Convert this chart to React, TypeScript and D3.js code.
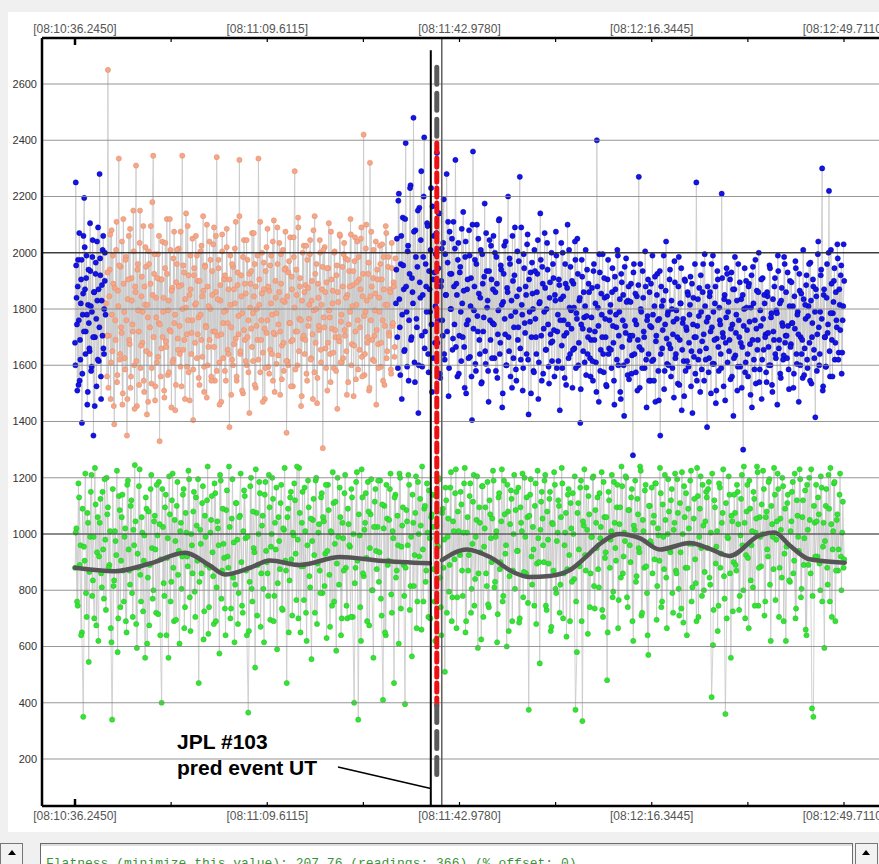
import { useEffect, useRef } from "react";
import * as d3 from "d3";

// time axis: one label every tickStep seconds
const tickLabels = ["08:10:36.2450", "08:11:09.6115", "08:11:42.9780", "08:12:16.3445", "08:12:49.7110"];
const tickStep = 33.3665;
const yTicks = [200, 400, 600, 800, 1000, 1200, 1400, 1600, 1800, 2000, 2200, 2400, 2600];

// readings (values), evenly spaced in time over their span (seconds from first label)
// two interleaved passes per channel
const blueLeftSpan = [0, 5.2];
const blueLeft = [
  1680, 2250, 1840, 1510, 1975, 1760, 1545, 1620, 1905, 1395, 1780, 2060, 2195, 1870, 1720, 1990, 1460, 1815, 1750, 1650,
  1935, 1580, 1790, 2045, 1350, 1860, 1700, 1965, 1525, 1830, 2090, 1615, 2280, 1920, 1480, 1885, 2010, 1660, 1800, 2000,
];
const blueLeft2Span = [0.07, 5.3];
const blueLeft2 = [
  1600, 1955, 1745, 1880, 1530, 2070, 1690, 1820, 1975, 1570, 1855, 1720, 2020, 1640, 1910, 1780, 1505, 1940, 1660, 2105,
  1810, 1595, 1985, 1700, 1860, 1455, 1925, 1765, 2040, 1620, 1870, 1735, 1980, 1560, 1830, 1705, 2060, 1640, 1900, 1780,
];

const orangeSpan = [5.4, 55.6];
const orange = [
  1820, 1560, 2650, 1705, 1940, 1480, 2080, 1650, 1890, 1390, 1760, 2010, 1540, 1865, 2335, 1620, 1950, 1715, 1460, 2120,
  1790, 1585, 1985, 1350, 1835, 2060, 1675, 1520, 1910, 1745, 2150, 1600, 1880, 2310, 1455, 1960, 1720, 2035, 1590, 1845,
  1680, 2095, 1505, 1815, 1950, 1425, 1770, 2005, 1640, 1890, 1535, 2180, 2345, 1925, 1475, 1840, 1610, 1995, 1750, 1330,
  1905, 1660, 2040, 1790, 1510, 1945, 1685, 2120, 1565, 1830, 1725, 2010, 1450, 1875, 1620, 2075, 1780, 1530, 1960, 1695,
  2015, 1740, 1595, 1885, 2345, 1655, 1930, 1480, 1805, 1710, 2095, 1575, 1850, 1990, 1640, 1760, 1405, 1920, 1815, 2060,
  1625, 1900, 1770, 1530, 2005, 1690, 1845, 2130, 1595, 1955, 1740, 1485, 1880, 1665, 2040, 1800, 1560, 1935, 1720, 2090,
  1545, 1860, 2340, 1705, 1975, 1610, 1830, 1470, 2065, 1750, 1905, 1580, 1795, 2020, 1655, 1870, 1380, 1990, 1735, 1620,
  1950, 1675, 1820, 2110, 1545, 1885, 1710, 2330, 1640, 1920, 1785, 1500, 2045, 1690, 1855, 1600, 1975, 1760, 1430, 1890,
  1730, 2070, 1615, 1845, 1960, 1520, 1800, 1690, 2335, 1905, 1575, 1760, 2000, 1645, 1870, 1480, 1935, 1715, 2085, 1595,
  1865, 1655, 1990, 1780, 1545, 2115, 1710, 1840, 1605, 1960, 1745, 2035, 1495, 1890, 1670, 2010, 1580, 1825, 1945, 1360,
  1615, 1930, 1750, 2055, 1685, 1870, 1525, 1985, 2290, 1720, 1850, 1600, 2090, 1765, 1910, 1455, 1830, 1695, 2025, 1640,
  1885, 1570, 1975, 1740, 1815, 2045, 1625, 1900, 1480, 1795, 2130, 1680, 1960, 1555, 1840, 1725, 2000, 1610, 1870, 1305,
  1770, 2020, 1660, 1895, 1510, 1945, 1795, 1640, 2075, 1730, 1865, 1590, 2005, 1700, 1920, 1445, 1825, 1685, 2060, 1755,
  1610, 1880, 1995, 1725, 1980, 1650, 1850, 1540, 1935, 1790, 2065, 1675, 1885, 1490, 1970, 1720, 1815, 2040, 1585, 1905,
  1735, 2050, 1630, 1845, 2420, 1565, 1790, 2100, 1680, 1925, 1510, 2320, 1760, 1880, 1620, 2010, 1705, 1855, 1460, 1940,
  1675, 1840, 2025, 1595, 1905, 1760, 1985, 1530, 1815, 2070, 1650, 1950, 1715, 1870, 1585, 2035, 1740, 1895, 1630, 1980,
];
const orange2Span = [5.48, 55.5];
const orange2 = [
  1705, 1930, 1520, 1845, 2065, 1610, 1780, 1990, 1455, 1875, 1690, 2110, 1565, 1810, 1955, 1640, 1735, 2040, 1500, 1890,
  1625, 1975, 1760, 1480, 1905, 1690, 2085, 1560, 1830, 1720, 2005, 1445, 1860, 1615, 1940, 1795, 1530, 2150, 1670, 1915,
  1790, 1545, 1880, 2020, 1650, 1815, 1470, 1960, 1735, 2095, 1590, 1850, 1700, 1995, 1525, 1770, 1910, 1630, 2060, 1745,
  1560, 1905, 1700, 1840, 1485, 2035, 1665, 1925, 1795, 1575, 2120, 1720, 1865, 1610, 1980, 1750, 1440, 1895, 2010, 1655,
  1880, 1640, 2075, 1525, 1800, 1955, 1690, 1835, 2140, 1595, 1760, 1920, 1475, 1870, 1715, 2050, 1585, 1945, 1680, 1820,
  1990, 1710, 1555, 1900, 1780, 2025, 1630, 1865, 1505, 1950, 1735, 2100, 1600, 1810, 1690, 1975, 1545, 1850, 2030, 1665,
  1720, 2060, 1580, 1835, 1945, 1460, 1885, 1710, 2005, 1625, 1790, 1920, 1545, 2085, 1750, 1640, 1905, 1815, 1495, 1960,
  1600, 1870, 2015, 1695, 1560, 1930, 1775, 2130, 1650, 1845, 1510, 1985, 1725, 1890, 1615, 2045, 1700, 1575, 1925, 1805,
  1935, 1665, 1785, 2070, 1530, 1880, 1740, 1990, 1620, 1815, 2110, 1690, 1855, 1470, 1965, 1730, 1590, 2020, 1760, 1880,
  1570, 1955, 1820, 1640, 2040, 1715, 1505, 1900, 1785, 2090, 1635, 1860, 1720, 1995, 1550, 1830, 1680, 1940, 2075, 1615,
  1845, 1600, 1970, 1750, 1525, 1915, 1690, 2055, 1805, 1585, 1940, 1720, 2125, 1650, 1880, 1760, 1490, 2000, 1705, 1860,
  1690, 2025, 1545, 1875, 1765, 1995, 1620, 1830, 1710, 2080, 1575, 1925, 1800, 1465, 1890, 1740, 2045, 1655, 1815, 1950,
  2010, 1735, 1860, 1590, 1945, 1680, 2105, 1770, 1540, 1905, 1820, 1645, 2000, 1725, 1580, 1955, 1860, 1700, 2065, 1610,
  1780, 1950, 1625, 2035, 1705, 1840, 1495, 1975, 1745, 1880, 2120, 1600, 1810, 1935, 1670, 2055, 1550, 1895, 1760, 1985,
  1655, 1870, 2090, 1560, 1925, 1775, 1640, 2015, 1830, 1700, 1965, 1520, 1845, 2075, 1690, 1910, 1615, 1795, 2040, 1725,
  1905, 1590, 1790, 1960, 1680, 2030, 1545, 1870, 1740, 2095, 1625, 1815, 1985, 1705, 1860, 1570, 1945, 1750, 1880, 1665,
];

const blueRightSpan = [55.7, 133.4];
const blueRight = [
  1820, 2050, 1590, 2210, 1735, 1960, 1480, 2125, 1870, 1655, 2390, 1790, 2005, 1545, 1925, 2240, 1700, 1860, 2480, 1610,
  2080, 1765, 1950, 1430, 2160, 1840, 2290, 1595, 1985, 2410, 1720, 1880, 2105, 1640, 1935, 1790, 2230, 1505, 1905, 2060,
  1680, 1995, 2355, 1760, 2140, 1570, 1880, 2015, 1705, 2190, 1620, 1850, 2280, 1965, 1490, 2075, 1800, 1925, 1655, 2110,
  1745, 2330, 1890, 1560, 2035, 1705, 1950, 1615, 1820, 2145, 1665, 1985, 1500, 1870, 1760, 2080, 1630, 1910, 1405, 2360,
  1795, 1975, 1580, 2100, 1720, 1855, 1640, 2010, 1540, 1890, 1770, 2175, 1605, 1935, 1830, 1470, 2045, 1690, 1905, 1750,
  2060, 1625, 1860, 1985, 1555, 1795, 2120, 1680, 1940, 1450, 1825, 2025, 1710, 1600, 1875, 2200, 1650, 1960, 1775, 1520,
  1900, 1735, 2090, 1585, 1845, 1690, 1970, 2270, 1620, 1815, 1510, 1995, 1750, 1880, 1640, 2065, 1425, 1790, 1930, 1700,
  1855, 1580, 2010, 1765, 1640, 1925, 1480, 1820, 2140, 1705, 1950, 1570, 1790, 1875, 1655, 2035, 1745, 1535, 1895, 1680,
  1615, 1960, 1725, 1850, 2075, 1590, 1780, 1905, 1440, 1835, 1670, 2000, 1760, 1555, 1890, 1715, 2100, 1625, 1805, 1950,
  1730, 1520, 1890, 1660, 1975, 1785, 2050, 1600, 1830, 1395, 1745, 1915, 1650, 1770, 1810, 1565, 1940, 1700, 1860, 1625,
  1690, 1875, 1545, 1960, 1720, 1610, 2400, 1805, 1470, 1930, 1655, 1780, 1995, 1575, 1840, 1700, 1525, 1905, 1640, 1760,
  1815, 1590, 1945, 1680, 1460, 1870, 1735, 2010, 1600, 1790, 1505, 1925, 1665, 1850, 1420, 1740, 1980, 1615, 1830, 1550,
  1705, 1890, 1635, 1280, 1960, 1760, 1575, 1845, 1690, 2270, 1520, 1800, 1655, 1935, 1720, 1590, 1880, 1450, 1775, 1640,
  1860, 1545, 1735, 1990, 1620, 1810, 1470, 1705, 1925, 1580, 1765, 1350, 1880, 1660, 1830, 1515, 1745, 2040, 1605, 1790,
  1675, 1940, 1560, 1800, 1710, 1485, 1895, 1640, 1765, 1535, 1985, 1690, 1820, 1440, 1750, 1615, 1905, 1580, 1725, 1860,
  1595, 1780, 1915, 1650, 1430, 1840, 1700, 1570, 2250, 1740, 1620, 1875, 1505, 1790, 1685, 1960, 1545, 1810, 1660, 1380,
  1770, 1625, 1860, 1500, 1735, 1990, 1605, 1820, 1465, 1695, 1905, 1580, 1760, 1640, 2210, 1715, 1525, 1850, 1680, 1945,
  1610, 1825, 1690, 1550, 1930, 1745, 1420, 1870, 1635, 1780, 1510, 1960, 1700, 1595, 1835, 1665, 1300, 1800, 1575, 1900,
  1725, 1560, 1890, 1675, 1805, 1450, 1950, 1620, 1760, 1535, 1865, 1690, 2000, 1585, 1740, 1480, 1910, 1655, 1820, 1710,
  1540, 1845, 1665, 1955, 1600, 1785, 1505, 1720, 1880, 1640, 1795, 1460, 1935, 1690, 1570, 1830, 1750, 1620, 1985, 1680,
  1860, 1625, 1740, 1515, 1900, 1675, 1750, 1810, 1570, 1730, 1945, 1605, 1790, 1470, 1865, 1700, 1640, 1555, 1835, 1660,
  1765, 1920, 1590, 1810, 1680, 1965, 1535, 1750, 1880, 1625, 1415, 1845, 1710, 2040, 1600, 1790, 1940, 2300, 1525, 1870,
  1700, 1595, 1960, 1745, 2220, 1560, 2010, 1690, 1785, 1900, 1620, 1860, 1735, 1980, 1645, 1815, 1920, 1570, 1760, 2030,
];
const blueRight2Span = [55.78, 133.5];
const blueRight2 = [
  1940, 1700, 2185, 1835, 1565, 2060, 1780, 1955, 1650, 2120, 1880, 1595, 2025, 1760, 2230, 1690, 1910, 1820, 2075, 1540,
  1985, 1735, 2150, 1600, 1895, 2045, 1705, 1850, 2200, 1660, 1960, 1790, 2095, 1575, 1870, 2010, 1745, 2165, 1625, 1930,
  1810, 2070, 1680, 1945, 2140, 1555, 1900, 1760, 2035, 1640, 1995, 1850, 1720, 2110, 1590, 1925, 1800, 2050, 1695, 1880,
  2015, 1665, 1850, 1975, 1570, 1930, 1790, 2085, 1700, 1865, 1520, 2040, 1745, 1905, 1625, 1990, 1810, 1560, 2100, 1730,
  1880, 1605, 1960, 1775, 2050, 1690, 1840, 1535, 1995, 1720, 1915, 1650, 2070, 1805, 1580, 1935, 1760, 2025, 1625, 1870,
  1745, 2000, 1580, 1890, 1710, 2115, 1640, 1955, 1815, 1500, 1925, 1765, 2040, 1600, 1860, 1700, 1980, 1560, 1830, 2060,
  1625, 1920, 1790, 1545, 2005, 1735, 1870, 1660, 2090, 1780, 1590, 1945, 1715, 1850, 2030, 1620, 1905, 1755, 1500, 1965,
  1800, 1575, 1935, 1700, 1860, 2045, 1610, 1825, 1975, 1545, 1890, 1730, 2070, 1655, 1800, 1940, 1595, 1840, 1710, 2000,
  1685, 1910, 1560, 1830, 1990, 1720, 1615, 1885, 1760, 2035, 1590, 1845, 1705, 1960, 1530, 1875, 1745, 2010, 1640, 1795,
  1900, 1655, 1805, 2040, 1590, 1765, 1925, 1680, 1840, 1515, 1975, 1730, 1860, 1610, 2010, 1775, 1640, 1890, 1725, 1560,
  1770, 1615, 1935, 1690, 1820, 1505, 1880, 1740, 1995, 1580, 1855, 1700, 1640, 1910, 1765, 1530, 1845, 1975, 1660, 1790,
  1655, 1860, 1740, 1545, 1915, 1780, 1620, 1990, 1705, 1835, 1480, 1895, 1760, 1600, 1950, 1715, 1825, 1565, 1880, 1690,
  1825, 1570, 1705, 1930, 1640, 1855, 1745, 1510, 1885, 1665, 1960, 1790, 1590, 1840, 1700, 2005, 1620, 1760, 1905, 1545,
  1740, 1890, 1615, 1780, 1545, 1915, 1685, 1850, 1760, 1475, 1935, 1640, 1810, 1725, 1990, 1580, 1865, 1695, 1780, 1600,
  1905, 1660, 1830, 1590, 1755, 1970, 1625, 1795, 1700, 1880, 1530, 1820, 1945, 1655, 1765, 1490, 1900, 1735, 1615, 1850,
  1680, 1815, 1525, 1890, 1745, 1630, 1960, 1700, 1545, 1835, 1775, 1650, 1920, 1585, 1860, 1710, 1995, 1620, 1755, 1880,
  1575, 1845, 1720, 1960, 1605, 1790, 1690, 1880, 1510, 1935, 1665, 1805, 1745, 1590, 1910, 1700, 1835, 1475, 1770, 1925,
  1790, 1650, 1905, 1730, 1560, 1870, 1625, 1985, 1715, 1830, 1595, 1760, 1895, 1680, 1520, 1850, 1740, 1945, 1610, 1805,
  1640, 1880, 1755, 1495, 1920, 1690, 1820, 1585, 1975, 1730, 1655, 1860, 1540, 1795, 1905, 1620, 1765, 1850, 1700, 1575,
  1860, 1715, 1600, 1945, 1770, 1530, 1835, 1690, 1910, 1625, 1785, 1990, 1660, 1820, 1555, 1875, 1740, 1635, 1960, 1705,
  1705, 1930, 1585, 1810, 1665, 1895, 1750, 1520, 1845, 1970, 1640, 1780, 1710, 1925, 1600, 1855, 1690, 2010, 1565, 1815,
  1885, 1620, 1775, 1960, 1545, 1830, 1700, 1905, 1655, 1790, 1870, 1580, 1995, 1735, 1640, 1920, 1765, 1510, 1850, 1700,
  1595, 1840, 1715, 2000, 1650, 1785, 1890, 1560, 1825, 1945, 1680, 1760, 2030, 1620, 1870, 1725, 1955, 1645, 1810, 1900,
];

const greenSpan = [0, 133.4];
const green = [
  880, 1020, 745, 1130, 960, 650, 350, 905, 790, 1075, 545, 990, 1210, 835, 700, 1105, 935, 620, 1040, 860,
  1150, 770, 980, 1200, 1095, 890, 665, 340, 815, 1010, 925, 580, 1135, 740, 1060, 870, 990, 690, 1175, 945,
  820, 1120, 705, 960, 1045, 595, 880, 1230, 760, 1005, 905, 560, 1090, 845, 675, 1160, 950, 800, 1065, 720,
  995, 1185, 640, 400, 1025, 780, 1140, 915, 560, 1070, 830, 1215, 690, 975, 1100, 855, 610, 1040, 920, 1160,
  740, 1005, 885, 1195, 655, 960, 1080, 795, 1130, 905, 470, 1015, 860, 1170, 725, 990, 1120, 645, 880, 1050,
  935, 680, 1145, 810, 1020, 575, 1190, 870, 965, 735, 1085, 920, 1240, 700, 1055, 845, 615, 1110, 980, 790,
  1065, 900, 720, 1155, 985, 640, 365, 830, 1200, 760, 950, 525, 1075, 890, 1185, 670, 1030, 805, 1140, 940,
  860, 1210, 695, 1000, 1125, 780, 945, 590, 1060, 875, 1175, 730, 1015, 905, 470, 1090, 835, 1150, 710, 995,
  1120, 765, 980, 1235, 650, 1040, 885, 1165, 720, 960, 1095, 810, 555, 1050, 925, 1190, 680, 1005, 870, 1130,
  790, 1045, 930, 630, 1175, 855, 1010, 745, 1110, 965, 585, 1200, 820, 1060, 700, 985, 1145, 880, 700, 1035,
  955, 1160, 705, 400, 880, 1220, 340, 995, 620, 1130, 850, 1040, 915, 1185, 675, 1070, 800, 560, 1115, 940,
  1025, 830, 1190, 710, 410, 1100, 640, 1055, 905, 1160, 785, 1010, 470, 1140, 870, 960, 1215, 735, 1030, 890,
  395, 1085, 960, 1175, 815, 565, 1040, 925, 1205, 760, 1000, 1125, 660, 945, 1090, 830, 1180, 705, 985, 1060,
  1140, 875, 620, 1030, 955, 1195, 740, 1075, 880, 510, 1120, 990, 795, 1165, 690, 1045, 910, 1230, 775, 1010,
  925, 1105, 780, 1180, 650, 1005, 870, 1135, 720, 965, 1210, 840, 1050, 595, 1095, 935, 1170, 705, 1020, 860,
  1185, 740, 1070, 900, 1225, 810, 990, 615, 1130, 875, 1045, 760, 1190, 930, 600, 1080, 850, 1155, 690, 1000,
  805, 1150, 940, 685, 1095, 1010, 775, 1200, 860, 1060, 375, 1140, 920, 1025, 745, 1180, 895, 985, 540, 1115,
  1055, 900, 1210, 730, 980, 1125, 655, 1040, 870, 1175, 790, 1005, 1100, 820, 1235, 700, 960, 1075, 875, 1160,
  690, 1020, 1145, 840, 375, 580, 1110, 885, 1190, 335, 1030, 925, 1165, 645, 1070, 860, 990, 1205, 735, 1040,
  1130, 810, 985, 1220, 705, 1060, 935, 480, 1150, 880, 1010, 775, 1185, 950, 1095, 665, 1035, 845, 1170, 920,
  975, 1200, 740, 1085, 900, 1160, 620, 1015, 830, 1125, 950, 1240, 710, 1050, 880, 1175, 790, 570, 1100, 965,
  860, 1065, 1180, 695, 1020, 905, 1145, 760, 990, 1210, 845, 1000, 1080, 935, 1160, 720, 1040, 870, 1195, 805,
  1110, 735, 1000, 1170, 880, 640, 1090, 965, 1225, 810, 1055, 910, 690, 1135, 990, 1205, 780, 1030, 865, 1150,
  950, 1185, 820, 420, 605, 1120, 895, 1010, 745, 1165, 930, 1075, 850, 360, 700, 985, 1140, 560, 1045, 900,
  1075, 870, 1150, 730, 995, 1210, 800, 1040, 925, 1175, 665, 1090, 960, 810, 1125, 1005, 1240, 745, 1060, 885,
  1000, 1160, 760, 1080, 920, 1195, 620, 1035, 875, 1140, 980, 1215, 705, 1055, 845, 1170, 930, 620, 1110, 960,
  830, 1045, 1185, 905, 700, 1120, 990, 1230, 775, 1060, 890, 1155, 640, 1015, 1200, 860, 380, 350, 1040, 1175,
  920, 1070, 800, 1165, 955, 595, 1100, 880, 1210, 760, 1035, 945, 1180, 690, 1050, 870, 1140, 920, 1005, 880,
];
const green2Span = [0.12, 133.5];
const green2 = [
  1005, 760, 1180, 890, 640, 1090, 955, 1215, 705, 1040, 865, 1150, 780, 990, 1235, 675, 1060, 920, 1125, 810,
  945, 1195, 730, 1070, 880, 1010, 615, 1160, 835, 975, 1225, 700, 1085, 905, 1140, 760, 1020, 650, 1190, 870,
  1100, 790, 1015, 1245, 680, 930, 1170, 855, 1060, 725, 995, 1130, 610, 1080, 890, 1210, 770, 1045, 945, 1175,
  715, 1035, 910, 1160, 825, 1095, 640, 985, 1205, 760, 1120, 880, 1050, 695, 1185, 940, 1010, 805, 1140, 665,
  1075, 920, 1225, 775, 1000, 860, 1150, 705, 1030, 1195, 830, 965, 1110, 625, 1065, 890, 1240, 740, 1005, 1135,
  850, 1180, 690, 1045, 960, 1210, 770, 1090, 915, 640, 1155, 880, 1025, 735, 1195, 970, 820, 1110, 680, 1060,
  1215, 745, 1010, 1135, 870, 990, 655, 1170, 805, 1080, 935, 1230, 710, 1000, 1145, 860, 1065, 615, 1185, 900,
  780, 1095, 955, 1200, 690, 1040, 1165, 825, 975, 1110, 735, 1020, 1235, 870, 1060, 650, 1130, 910, 1005, 1180,
  930, 1240, 700, 1075, 885, 1150, 765, 1010, 620, 1190, 850, 1055, 975, 1125, 720, 1200, 895, 1035, 790, 1145,
  1060, 815, 1175, 940, 1085, 670, 1005, 1220, 760, 1115, 895, 990, 1165, 640, 1040, 870, 1210, 745, 1090, 960,
  705, 1130, 1000, 825, 1185, 905, 1070, 740, 1230, 860, 1015, 1145, 690, 1080, 950, 1195, 800, 1025, 1160, 875,
  1190, 935, 770, 1105, 1020, 650, 1175, 890, 1050, 1215, 720, 985, 1130, 845, 1065, 610, 1200, 955, 1095, 780,
  880, 1045, 1210, 730, 990, 1140, 815, 1075, 665, 1185, 920, 1030, 1240, 760, 1100, 870, 1005, 1155, 700, 1070,
  1025, 760, 1135, 960, 1200, 845, 640, 1090, 980, 1165, 720, 1055, 890, 1220, 775, 1010, 1145, 665, 1080, 935,
  1150, 870, 1005, 1235, 690, 1060, 925, 1180, 805, 1115, 745, 990, 1205, 860, 1040, 625, 1170, 955, 1095, 815,
  750, 1120, 985, 1055, 1190, 830, 1010, 715, 1145, 900, 1230, 780, 1070, 960, 1175, 655, 1035, 1125, 870, 1210,
  1085, 940, 1165, 700, 1040, 1215, 865, 990, 1130, 755, 1065, 1195, 820, 945, 1100, 680, 1225, 900, 1015, 1150,
  960, 1190, 745, 1080, 895, 1150, 670, 1035, 1220, 805, 975, 1120, 720, 1060, 1180, 860, 1005, 635, 1140, 925,
  1110, 830, 1000, 1205, 760, 1075, 945, 1165, 690, 1045, 1230, 870, 1015, 1135, 740, 990, 1200, 815, 1085, 950,
  875, 1145, 1025, 730, 1185, 915, 1060, 650, 1120, 980, 1210, 795, 1040, 905, 1175, 765, 1095, 1240, 860, 1005,
  1205, 775, 1085, 960, 1130, 690, 1030, 1190, 850, 1070, 935, 1225, 720, 1010, 1155, 885, 640, 1100, 975, 1165,
  1040, 910, 1180, 815, 995, 1235, 740, 1105, 875, 1050, 665, 1195, 945, 1120, 790, 1015, 1215, 860, 1075, 710,
  935, 1220, 685, 1060, 1145, 880, 1020, 1190, 760, 965, 1125, 825, 1235, 705, 1090, 950, 1175, 800, 1045, 1130,
  1160, 845, 1005, 1215, 730, 1095, 955, 655, 1180, 880, 1040, 1230, 770, 1110, 990, 1205, 860, 1065, 725, 1140,
  890, 1175, 1035, 780, 1125, 960, 1240, 700, 1080, 915, 1190, 835, 1010, 1150, 745, 1055, 1220, 880, 990, 1105,
  1225, 710, 1060, 945, 1185, 820, 1100, 990, 1235, 765, 1045, 1160, 880, 1015, 1200, 690, 1090, 955, 1140, 835,
  1010, 1150, 860, 1215, 735, 1065, 940, 1195, 805, 1120, 985, 660, 1175, 890, 1050, 1230, 780, 1100, 920, 1045,
  1130, 895, 1205, 760, 1040, 975, 1160, 820, 1090, 1235, 705, 1010, 1185, 870, 1070, 945, 1215, 800, 1115, 910,
];

// smoothed trend (seconds, value), broken at the event
const trendBeforeT = [0, 6.9, 13.0, 19.1, 23.4, 26.0, 30.4, 33.8, 39.0, 46.0, 52.9, 61.6];
const trendBeforeV = [880, 868, 895, 933, 888, 856, 880, 906, 890, 918, 905, 896];
const trendAfterT = [63.7, 68.0, 72.0, 76.0, 78.9, 82.4, 85.9, 88.5, 91.1, 94.5, 98.0, 101.5, 106.7, 110.1, 113.6, 118.8, 121.4, 124.0, 127.5, 133.6];
const trendAfterV = [907, 945, 918, 865, 847, 851, 872, 915, 965, 1000, 985, 945, 968, 948, 922, 995, 1005, 960, 910, 898];

// event markers (seconds) and the predicted-event dashes (values)
const eventT = 61.75;
const predT = 62.79;
const cursorT = 63.66;
const eventTop = 2720;
const predTop = 2660;
const predRedTop = 2390;
const predRedBottom = 390;
const predBottom = 140;
const leaderEnd = 95;

const statusText = "Flatness (minimize this value): 207.76 (readings: 366) (% offset: 0)";

const App = () => {
  const ref = useRef(null);

  useEffect(() => {
    document.body.style.margin = "0";
    const W = 879;
    const H = 864;
    const svg = d3.select(ref.current).attr("width", W).attr("height", H);
    svg.selectAll("*").remove();

    const plot = { left: 42, top: 38, right: 879, bottom: 806 };
    const x = d3
      .scaleLinear()
      .domain([0, tickStep * (tickLabels.length - 1)])
      .range([75, 844]);
    const y = d3.scaleLinear().domain([200, 2600]).range([759, 84]);

    svg.append("rect").attr("width", W).attr("height", H).attr("fill", "#f0f0f0");
    svg.append("rect").attr("x", 8).attr("y", 12).attr("width", W - 8).attr("height", 820).attr("fill", "#fff");

    svg
      .append("clipPath")
      .attr("id", "plotClip")
      .append("rect")
      .attr("x", plot.left)
      .attr("y", plot.top)
      .attr("width", plot.right - plot.left)
      .attr("height", plot.bottom - plot.top);
    const g = svg.append("g").attr("clip-path", "url(#plotClip)");

    const toPoints = (vals, span) => {
      const t = d3.scaleLinear().domain([0, vals.length - 1]).range(span);
      return vals.map((v, i) => [t(i), v]);
    };
    const greenStyle = { fill: "#36e236", stroke: "#1fc21f" };
    const orangeStyle = { fill: "#f5a888", stroke: "#e3896a" };
    const blueStyle = { fill: "#1414e6", stroke: "#0000a8" };
    const series = [
      { pts: toPoints(green, greenSpan), ...greenStyle },
      { pts: toPoints(green2, green2Span), ...greenStyle },
      { pts: toPoints(orange, orangeSpan), ...orangeStyle },
      { pts: toPoints(orange2, orange2Span), ...orangeStyle },
      { pts: toPoints(blueLeft, blueLeftSpan), ...blueStyle },
      { pts: toPoints(blueLeft2, blueLeft2Span), ...blueStyle },
      { pts: toPoints(blueRight, blueRightSpan), ...blueStyle },
      { pts: toPoints(blueRight2, blueRight2Span), ...blueStyle },
    ];

    const line = d3
      .line()
      .x((d) => x(d[0]))
      .y((d) => y(d[1]));

    // thin grey connectors between consecutive readings
    series.forEach((s) => {
      g.append("path")
        .attr("d", line(s.pts))
        .attr("fill", "none")
        .attr("stroke", "#c8c8c8")
        .attr("stroke-width", 0.8);
    });

    series.forEach((s) => {
      g.append("g")
        .selectAll("circle")
        .data(s.pts)
        .join("circle")
        .attr("cx", (d) => x(d[0]))
        .attr("cy", (d) => y(d[1]))
        .attr("r", 2.6)
        .attr("fill", s.fill)
        .attr("stroke", s.stroke)
        .attr("stroke-width", 0.5);
    });

    // grid sits on top of the dots
    yTicks.forEach((v) => {
      g.append("line")
        .attr("x1", plot.left)
        .attr("x2", plot.right)
        .attr("y1", y(v))
        .attr("y2", y(v))
        .attr("stroke", v === 2000 ? "#2a2a2a" : v === 1000 ? "#555" : "#8c8c8c")
        .attr("stroke-width", v === 2000 || v === 1000 ? 1.6 : 1.1)
        .attr("opacity", 0.9);
    });

    // smoothed trend
    const trend = d3
      .line()
      .curve(d3.curveMonotoneX)
      .x((d) => x(d[0]))
      .y((d) => y(d[1]));
    [
      [trendBeforeT, trendBeforeV],
      [trendAfterT, trendAfterV],
    ].forEach(([ts, vs]) => {
      g.append("path")
        .attr("d", trend(ts.map((t, i) => [t, vs[i]])))
        .attr("fill", "none")
        .attr("stroke", "#555")
        .attr("stroke-width", 4.5)
        .attr("stroke-linecap", "round");
    });

    // cursor line and event line
    g.append("line")
      .attr("x1", x(cursorT))
      .attr("x2", x(cursorT))
      .attr("y1", plot.top)
      .attr("y2", plot.bottom)
      .attr("stroke", "#555")
      .attr("stroke-width", 1.4);
    g.append("line")
      .attr("x1", x(eventT))
      .attr("x2", x(eventT))
      .attr("y1", y(eventTop))
      .attr("y2", plot.bottom)
      .attr("stroke", "#000")
      .attr("stroke-width", 2);

    // predicted event dashes
    const dash = (v0, v1, color, pattern) =>
      g.append("line")
        .attr("x1", x(predT))
        .attr("x2", x(predT))
        .attr("y1", y(v0))
        .attr("y2", y(v1))
        .attr("stroke", color)
        .attr("stroke-width", 5)
        .attr("stroke-linecap", "round")
        .attr("stroke-dasharray", pattern);
    dash(predTop, predRedTop, "#5a5a5a", "17 9");
    dash(predRedTop, predRedBottom, "#ee1010", "9 6");
    dash(predRedBottom, predBottom, "#5a5a5a", "17 9");

    // frame
    const axis = svg.append("g").attr("stroke", "#000");
    axis.append("line").attr("x1", plot.left).attr("x2", plot.left).attr("y1", plot.top).attr("y2", plot.bottom).attr("stroke-width", 2.5);
    axis.append("line").attr("x1", plot.left).attr("x2", plot.right).attr("y1", plot.top).attr("y2", plot.top).attr("stroke-width", 2.5);
    axis.append("line").attr("x1", plot.left).attr("x2", plot.right).attr("y1", plot.bottom).attr("y2", plot.bottom).attr("stroke-width", 2.5);

    // ticks, half-step minors
    d3.range(0, (tickLabels.length - 1) * 2 + 1).forEach((i) => {
      const px = x((i * tickStep) / 2);
      const len = i === 0 ? 7 : 4;
      const w = i === 0 ? 2.5 : 1.2;
      axis.append("line").attr("x1", px).attr("x2", px).attr("y1", plot.top).attr("y2", plot.top + len).attr("stroke-width", w);
      axis.append("line").attr("x1", px).attr("x2", px).attr("y1", plot.bottom).attr("y2", plot.bottom - len).attr("stroke-width", w);
    });

    tickLabels.forEach((lab, i) => {
      [33, 820].forEach((ty) => {
        svg
          .append("text")
          .attr("x", x(i * tickStep))
          .attr("y", ty)
          .attr("text-anchor", "middle")
          .style("font-family", "'Liberation Sans', Arial, sans-serif")
          .style("font-size", "12px")
          .attr("fill", "#555")
          .text(`[${lab}]`);
      });
    });

    yTicks.forEach((v) => {
      svg
        .append("text")
        .attr("x", 37)
        .attr("y", y(v))
        .attr("dy", "0.35em")
        .attr("text-anchor", "end")
        .style("font-family", "'Liberation Sans', Arial, sans-serif")
        .style("font-size", "11px")
        .attr("fill", "#333")
        .text(v);
    });

    // annotation
    const note = svg
      .append("g")
      .style("font-family", "'Liberation Sans', Arial, sans-serif")
      .style("font-size", "21px")
      .style("font-weight", "bold")
      .attr("fill", "#000");
    note.append("text").attr("x", 177).attr("y", 749).text("JPL #103");
    note.append("text").attr("x", 177).attr("y", 775).text("pred event UT");
    svg
      .append("line")
      .attr("x1", 338)
      .attr("y1", 767)
      .attr("x2", x(eventT))
      .attr("y2", y(leaderEnd))
      .attr("stroke", "#000")
      .attr("stroke-width", 1.6);

    // status strip
    svg.append("rect").attr("x", 40.5).attr("y", 843.5).attr("width", 812).attr("height", 30).attr("fill", "#fff").attr("stroke", "#6a6a6a");
    svg.append("line").attr("x1", 41).attr("x2", 852).attr("y1", 845).attr("y2", 845).attr("stroke", "#bbb");
    [
      [0, 12],
      [855, 866],
    ].forEach(([bx, cx]) => {
      svg.append("rect").attr("x", bx + 0.5).attr("y", 843.5).attr("width", 22).attr("height", 24).attr("fill", "#f2f2f2").attr("stroke", "#777");
      svg.append("path").attr("d", `M${cx - 4},${855} L${cx + 4},${855} L${cx},${850} Z`).attr("fill", "#000");
    });
    svg
      .append("text")
      .attr("x", 46)
      .attr("y", 867)
      .style("font-family", "'Liberation Mono', 'DejaVu Sans Mono', monospace")
      .style("font-size", "13px")
      .attr("fill", "#3a933a")
      .text(statusText);
  }, []);

  return (
    <div>
      <svg ref={ref} style={{ display: "block" }}></svg>
    </div>
  );
};

export default App;
